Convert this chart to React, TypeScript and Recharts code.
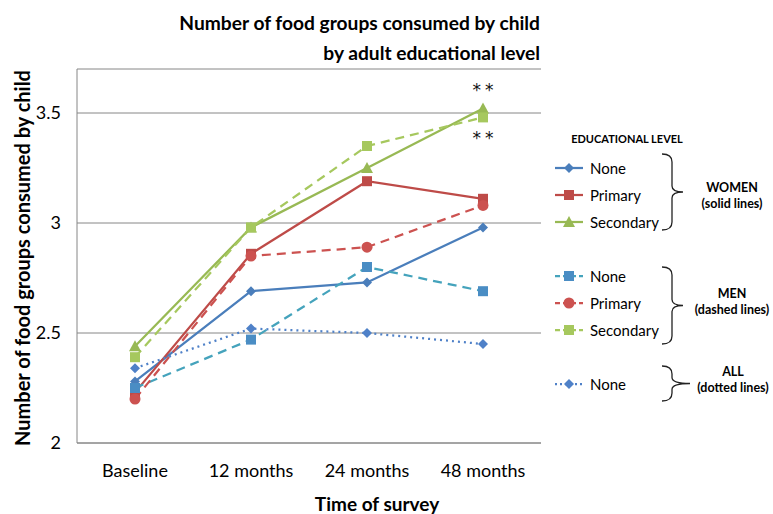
import { CartesianGrid, Line, LineChart, ReferenceDot, XAxis, YAxis } from 'recharts';

const surveys = ['Baseline', '12 months', '24 months', '48 months'];

const womenNone = [2.28, 2.69, 2.73, 2.98];
const womenPrimary = [2.23, 2.86, 3.19, 3.11];
const womenSecondary = [2.44, 2.98, 3.25, 3.52];
const menNone = [2.25, 2.47, 2.8, 2.69];
const menPrimary = [2.2, 2.85, 2.89, 3.08];
const menSecondary = [2.39, 2.98, 3.35, 3.48];
const allNone = [2.34, 2.52, 2.5, 2.45];

const yTicks = [2, 2.5, 3, 3.5];
// significance markers on the 48-month point
const starLabels = [
  { y: 3.62, text: '**' },
  { y: 3.4, text: '**' },
];

type Marker = 'diamond' | 'square' | 'triangle' | 'circle';

interface Series {
  key: string;
  label: string;
  values: number[];
  stroke: string;
  fill: string;
  marker: Marker;
  dash?: string;
}

const series: Series[] = [
  { key: 'wNone', label: 'None', values: womenNone, stroke: '#4A7EBB', fill: '#4A7EBB', marker: 'diamond' },
  { key: 'wPrimary', label: 'Primary', values: womenPrimary, stroke: '#BE4B48', fill: '#BE4B48', marker: 'square' },
  { key: 'wSecondary', label: 'Secondary', values: womenSecondary, stroke: '#98B954', fill: '#98B954', marker: 'triangle' },
  { key: 'mNone', label: 'None', values: menNone, stroke: '#45A3BC', fill: '#4A8DC4', marker: 'square', dash: '9 6' },
  { key: 'mPrimary', label: 'Primary', values: menPrimary, stroke: '#CC5250', fill: '#CC5250', marker: 'circle', dash: '9 6' },
  { key: 'mSecondary', label: 'Secondary', values: menSecondary, stroke: '#A6C85E', fill: '#A6C85E', marker: 'square', dash: '9 6' },
  { key: 'aNone', label: 'None', values: allNone, stroke: '#4F81C8', fill: '#4F81C8', marker: 'diamond', dash: '2 4' },
];

const data = surveys.map((survey, i) => {
  const row: Record<string, string | number> = { survey };
  series.forEach((s) => {
    row[s.key] = s.values[i];
  });
  return row;
});

const FONT = 'Lato, "Open Sans", sans-serif';

function MarkerShape({ cx, cy, marker, fill }: { cx: number; cy: number; marker: Marker; fill: string }) {
  if (marker === 'diamond') {
    const r = 5;
    return <path d={`M${cx},${cy - r}L${cx + r},${cy}L${cx},${cy + r}L${cx - r},${cy}Z`} fill={fill} />;
  }
  if (marker === 'square') {
    return <rect x={cx - 5} y={cy - 5} width={10} height={10} fill={fill} />;
  }
  if (marker === 'triangle') {
    return <path d={`M${cx},${cy - 6}L${cx + 6},${cy + 5}L${cx - 6},${cy + 5}Z`} fill={fill} />;
  }
  return <circle cx={cx} cy={cy} r={5.5} fill={fill} />;
}

function makeDot(s: Series) {
  return (props: any) => {
    const { cx, cy, index } = props;
    if (cx == null || cy == null) return <g key={`${s.key}-${index}`} />;
    return (
      <g key={`${s.key}-${index}`}>
        <MarkerShape cx={cx} cy={cy} marker={s.marker} fill={s.fill} />
      </g>
    );
  };
}

function starShape(text: string) {
  return (props: any) => (
    <text
      x={props.cx + 2}
      y={props.cy + 9}
      textAnchor="middle"
      fontSize={17}
      letterSpacing={4}
      fill="#111"
      fontFamily='"DejaVu Sans", sans-serif'
    >
      {text}
    </text>
  );
}

// curly brace opening to the left, pointing right at the middle
function Brace({ x, top, bottom, tip }: { x: number; top: number; bottom: number; tip: number }) {
  const mid = (top + bottom) / 2;
  const w = 10;
  const d = [
    `M${x},${top}`,
    `Q${x + w},${top} ${x + w},${top + 8}`,
    `L${x + w},${mid - 6}`,
    `Q${x + w},${mid} ${tip},${mid}`,
    `Q${x + w},${mid} ${x + w},${mid + 6}`,
    `L${x + w},${bottom - 8}`,
    `Q${x + w},${bottom} ${x},${bottom}`,
  ].join(' ');
  return <path d={d} fill="none" stroke="#222" strokeWidth={1.3} />;
}

function LegendRow({ s, y }: { s: Series; y: number }) {
  return (
    <g>
      <line x1={555} x2={583} y1={y} y2={y} stroke={s.stroke} strokeWidth={2.25} strokeDasharray={s.dash ? (s.dash === '2 4' ? '2 3' : '5 3') : undefined} />
      <MarkerShape cx={569} cy={y} marker={s.marker} fill={s.fill} />
      <text x={590} y={y} dominantBaseline="central" fontSize={15} fill="#000">
        {s.label}
      </text>
    </g>
  );
}

const legendRows = [168, 195, 222, 276, 303, 330, 384];

export default function App() {
  return (
    <div style={{ position: 'relative', width: 773, height: 514, background: '#fff', fontFamily: FONT }}>
      <style>{'body{margin:0}'}</style>
      <LineChart
        width={773}
        height={514}
        data={data}
        margin={{ top: 69, right: 232, bottom: 31, left: 17 }}
        style={{ fontFamily: FONT }}
      >
        <CartesianGrid vertical={false} stroke="#868686" strokeWidth={1} />
        <XAxis
          dataKey="survey"
          height={40}
          padding={{ left: 58, right: 58 }}
          tickLine={false}
          axisLine={{ stroke: '#868686' }}
          tick={{ fontSize: 18, fill: '#000' }}
          tickMargin={15}
          interval={0}
        />
        <YAxis
          width={60}
          domain={[2, 3.7]}
          ticks={yTicks}
          tickLine={false}
          axisLine={{ stroke: '#868686' }}
          tick={{ fontSize: 18, fill: '#000' }}
          tickMargin={10}
        />
        {series.map((s) => (
          <Line
            key={s.key}
            dataKey={s.key}
            type="linear"
            stroke={s.stroke}
            strokeWidth={2.25}
            strokeDasharray={s.dash}
            dot={makeDot(s)}
            activeDot={false}
            isAnimationActive={false}
          />
        ))}
        {starLabels.map((st, i) => (
          <ReferenceDot key={i} x="48 months" y={st.y} r={1} shape={starShape(st.text)} />
        ))}
      </LineChart>
      <svg
        width={773}
        height={514}
        style={{ position: 'absolute', left: 0, top: 0, pointerEvents: 'none', fontFamily: FONT }}
      >
        <text x={540} y={22} textAnchor="end" dominantBaseline="central" fontSize={19.2} fontWeight="bold">
          Number of food groups consumed by child
        </text>
        <text x={540} y={52} textAnchor="end" dominantBaseline="central" fontSize={19.2} fontWeight="bold">
          by adult educational level
        </text>
        <text
          x={22}
          y={258}
          transform="rotate(-90 22 258)"
          textAnchor="middle"
          dominantBaseline="central"
          fontSize={20}
          fontWeight="bold"
        >
          Number of food groups consumed by child
        </text>
        <text x={377} y={503} textAnchor="middle" dominantBaseline="central" fontSize={19} fontWeight="bold">
          Time of survey
        </text>

        <text x={627} y={138} textAnchor="middle" dominantBaseline="central" fontSize={11} fontWeight="bold">
          EDUCATIONAL LEVEL
        </text>
        {series.map((s, i) => (
          <LegendRow key={s.key} s={s} y={legendRows[i]} />
        ))}

        <Brace x={662} top={154} bottom={230} tip={683} />
        <Brace x={662} top={267} bottom={344} tip={683} />
        <Brace x={662} top={366} bottom={401} tip={690} />

        <text x={732} y={187} textAnchor="middle" dominantBaseline="central" fontSize={12.5} fontWeight="bold">
          WOMEN
        </text>
        <text x={732} y={203} textAnchor="middle" dominantBaseline="central" fontSize={12.5} fontWeight="bold">
          (solid lines)
        </text>
        <text x={732} y={293} textAnchor="middle" dominantBaseline="central" fontSize={12.5} fontWeight="bold">
          MEN
        </text>
        <text x={732} y={309} textAnchor="middle" dominantBaseline="central" fontSize={12.5} fontWeight="bold">
          (dashed lines)
        </text>
        <text x={733} y={371} textAnchor="middle" dominantBaseline="central" fontSize={12.5} fontWeight="bold">
          ALL
        </text>
        <text x={733} y={387} textAnchor="middle" dominantBaseline="central" fontSize={12.5} fontWeight="bold">
          (dotted lines)
        </text>
      </svg>
    </div>
  );
}
